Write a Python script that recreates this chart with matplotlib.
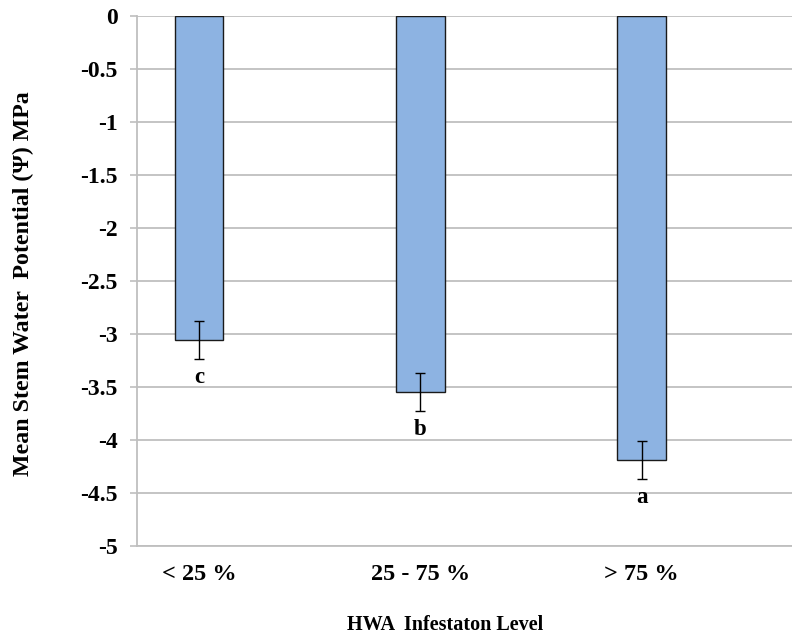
import matplotlib
matplotlib.use("Agg")
import matplotlib.pyplot as plt
import numpy as np

categories = ["< 25 %", "25 - 75 %", "> 75 %"]
means = [-3.06, -3.55, -4.19]
errors = [0.18, 0.18, 0.18]
letters = ["c", "b", "a"]
yticks = [0, -0.5, -1, -1.5, -2, -2.5, -3, -3.5, -4, -4.5, -5]
ytick_labels = ["0", "-0.5", "-1", "-1.5", "-2", "-2.5", "-3", "-3.5", "-4", "-4.5", "-5"]

plt.rcParams['font.family'] = ['Liberation Serif', 'DejaVu Serif']
plt.rcParams['font.weight'] = 'bold'

fig = plt.figure(figsize=(7.92, 6.38), dpi=100)
W, H = 792, 638
ax = fig.add_axes([137 / W, 1 - 546 / H, (792 - 137) / W, (546 - 16) / H])

x = np.arange(len(categories))
ax.bar(x, means, width=0.221, color="#8db3e2", edgecolor="#1a1a1a", linewidth=1.0, zorder=3)
ax.errorbar(x, means, yerr=errors, fmt="none", ecolor="black", elinewidth=1.0,
            capsize=3.4, capthick=1.0, zorder=4)
# significance letters sit just below each error bar
for xi, m, e, lab in zip(x, means, errors, letters):
    ax.text(xi, m - e - 0.22, lab, ha="center", va="baseline", fontsize=16.5,
            fontweight="bold", zorder=5)

ax.set_xlim(-0.28, 2.68)
ax.set_ylim(-5, 0)
ax.set_yticks(yticks)
ax.set_yticklabels(ytick_labels, fontsize=17, fontweight="bold")
ax.set_xticks(x)
ax.set_xticklabels(categories, fontsize=17.5, fontweight="bold")
ax.tick_params(axis="x", length=0, pad=13)
ax.tick_params(axis="y", length=5, color="#bfbfbf", width=1.2, pad=9)

ax.yaxis.grid(True, color="#bfbfbf", linewidth=1.3, zorder=0)
ax.set_axisbelow(True)
for side in ["top", "right"]:
    ax.spines[side].set_visible(False)
ax.spines["left"].set_color("#bfbfbf")
ax.spines["left"].set_linewidth(1.3)
ax.spines["bottom"].set_color("#bfbfbf")
ax.spines["bottom"].set_linewidth(1.3)

fig.text(445 / W, 1 - 625 / H, "HWA  Infestaton Level", ha="center", va="center",
         fontsize=14.5, fontweight="bold")
fig.text(23 / W, 1 - 284 / H, "Mean Stem Water  Potential (\u03a8) MPa", ha="center", va="center",
         rotation=90, fontsize=17.2, fontweight="bold")

fig.savefig("out.png", dpi=100)
